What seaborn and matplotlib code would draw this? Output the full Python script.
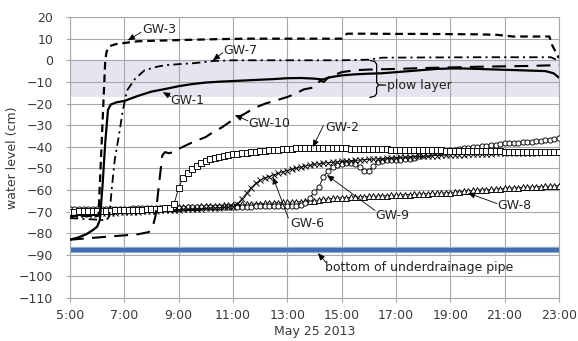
import numpy as np
import pandas as pd
import matplotlib
matplotlib.use("Agg")
import matplotlib.pyplot as plt
import seaborn as sns

# ---------------- data ----------------
# 10-minute series, 5:00 .. 23:00 (hours)
t10 = np.arange(0, 109) / 6.0 + 5.0

gw2 = [-70.0, -70.0, -69.9, -69.9, -69.8, -69.8,
       -69.7, -69.7, -69.6, -69.6, -69.5, -69.5,
       -69.4, -69.3, -69.3, -69.2, -69.1, -69.0,
       -68.9, -68.8, -68.7, -68.5, -68.2, -66.5,
       -59.0, -54.5, -52.0, -50.3, -48.8, -47.5,
       -46.5, -45.8, -45.2, -44.7, -44.2, -43.8,
       -43.5, -43.2, -42.9, -42.7, -42.5, -42.3,
       -42.1, -41.9, -41.7, -41.5, -41.3, -41.1,
       -41.0, -40.9, -40.8, -40.8, -40.7, -40.7,
       -40.7, -40.6, -40.6, -40.6, -40.7, -40.7,
       -40.8, -40.8, -40.9, -40.9, -41.0, -41.0,
       -41.0, -41.1, -41.1, -41.2, -41.2, -41.3,
       -41.3, -41.3, -41.4, -41.4, -41.5, -41.5,
       -41.5, -41.6, -41.6, -41.7, -41.7, -41.8,
       -41.8, -41.9, -41.9, -42.0, -42.0, -42.0,
       -42.1, -42.1, -42.1, -42.2, -42.2, -42.2,
       -42.3, -42.3, -42.3, -42.4, -42.4, -42.4,
       -42.5, -42.5, -42.5, -42.5, -42.6, -42.6,
       -42.6]

gw6 = [-71.5, -71.4, -71.3, -71.2, -71.1, -71.0,
       -70.9, -70.8, -70.7, -70.6, -70.5, -70.4,
       -70.3, -70.2, -70.1, -70.0, -69.9, -69.8,
       -69.7, -69.6, -69.5, -69.4, -69.3, -69.2,
       -69.1, -69.0, -68.9, -68.8, -68.7, -68.6,
       -68.5, -68.4, -68.3, -68.2, -68.1, -68.0,
       -67.8, -66.5, -64.0, -61.5, -59.0, -57.0,
       -55.5, -54.5, -53.8, -53.0, -52.3, -51.6,
       -51.0, -50.4, -49.9, -49.4, -49.0, -48.6,
       -48.2, -47.9, -47.6, -47.4, -47.2, -47.0,
       -46.8, -46.6, -46.5, -46.3, -46.2, -46.0,
       -45.9, -45.7, -45.6, -45.5, -45.3, -45.2,
       -45.0, -44.9, -44.8, -44.7, -44.6, -44.5,
       -44.4, -44.3, -44.2, -44.1, -44.0, -43.9,
       -43.8, -43.7, -43.6, -43.6, -43.5, -43.4,
       -43.3, -43.3, -43.2, -43.2, -43.1, -43.1,
       -43.0, -43.0, -42.9, -42.9, -42.8, -42.8,
       -42.7, -42.7, -42.6, -42.6, -42.5, -42.5,
       -42.4]

gw9 = [-69.0, -69.0, -68.9, -68.9, -68.9, -68.8,
       -68.8, -68.8, -68.7, -68.7, -68.7, -68.6,
       -68.6, -68.6, -68.5, -68.5, -68.5, -68.4,
       -68.4, -68.4, -68.3, -68.3, -68.3, -68.2,
       -68.2, -68.2, -68.1, -68.1, -68.1, -68.0,
       -68.0, -68.0, -67.9, -67.9, -67.9, -67.8,
       -67.8, -67.8, -67.7, -67.7, -67.7, -67.6,
       -67.6, -67.6, -67.5, -67.5, -67.5, -67.4,
       -67.4, -67.3, -67.2, -67.0, -66.0, -63.5,
       -61.0, -58.5, -54.0, -51.0, -49.5, -48.5,
       -48.0, -47.5, -47.5, -48.0, -49.5, -51.0,
       -51.0, -49.0, -47.0, -46.5, -46.3, -46.2,
       -46.0, -46.0, -45.8, -45.5, -45.0, -44.5,
       -44.0, -43.2, -42.6, -42.3, -42.0, -41.8,
       -41.5, -41.3, -41.0, -40.8, -40.6, -40.3,
       -40.0, -39.7, -39.5, -39.2, -39.0, -38.8,
       -38.5, -38.4, -38.3, -38.2, -38.0, -37.9,
       -37.7, -37.5, -37.3, -37.0, -36.7, -36.4,
       -36.0]

gw8 = [-70.5, -70.4, -70.3, -70.2, -70.1, -70.0,
       -69.9, -69.8, -69.7, -69.6, -69.5, -69.4,
       -69.3, -69.2, -69.1, -69.0, -68.9, -68.8,
       -68.7, -68.6, -68.5, -68.4, -68.3, -68.2,
       -68.1, -68.0, -67.9, -67.8, -67.7, -67.6,
       -67.5, -67.4, -67.3, -67.2, -67.1, -67.0,
       -66.9, -66.8, -66.7, -66.6, -66.5, -66.4,
       -66.3, -66.2, -66.1, -66.0, -65.9, -65.8,
       -65.7, -65.6, -65.5, -65.4, -65.3, -65.1,
       -64.9, -64.6, -64.3, -64.1, -63.9, -63.7,
       -63.6, -63.5, -63.4, -63.3, -63.2, -63.1,
       -63.0, -62.9, -62.8, -62.7, -62.6, -62.5,
       -62.4, -62.3, -62.2, -62.1, -62.0, -61.9,
       -61.8, -61.7, -61.6, -61.5, -61.4, -61.3,
       -61.2, -61.0, -60.8, -60.6, -60.4, -60.2,
       -60.0, -59.9, -59.8, -59.7, -59.6, -59.4,
       -59.2, -59.1, -59.0, -58.9, -58.8, -58.7,
       -58.6, -58.5, -58.4, -58.3, -58.2, -58.1,
       -58.0]

# line-only series (irregular times, hours)
gw1_t = [5.0, 5.3, 5.6, 5.85, 6.0, 6.1, 6.2, 6.3, 6.4, 6.5, 6.7, 7.0, 7.5, 8.0,
         8.5, 9.0, 9.5, 10.0, 10.5, 11.0, 11.5, 12.0, 12.5, 13.0, 13.5, 14.0,
         14.3, 14.6, 15.0, 15.5, 16.0, 16.5, 17.0, 17.5, 18.0, 18.5, 19.0, 19.5,
         20.0, 20.5, 21.0, 21.5, 22.0, 22.5, 22.8, 23.0]
gw1_v = [-83.0, -82.0, -80.5, -78.5, -77.0, -74.0, -58.0, -38.0, -23.0, -20.5,
         -19.5, -18.8, -16.5, -14.5, -13.3, -12.0, -11.0, -10.3, -9.9, -9.6,
         -9.3, -9.0, -8.7, -8.3, -8.2, -8.5, -8.9, -7.8, -7.0, -6.5, -6.2, -6.0,
         -5.5, -5.0, -4.5, -4.0, -3.8, -3.8, -4.0, -4.2, -4.4, -4.6, -4.8, -5.0,
         -6.0, -8.0]

gw3_t = [5.0, 6.05, 6.3, 6.35, 6.45, 6.7, 7.0, 7.5, 8.0, 8.6, 9.5, 10.5, 11.5,
         12.8, 14.0, 15.0, 15.2, 16.0, 17.0, 18.0, 19.0, 20.0, 20.7, 21.3, 22.0,
         22.65, 22.75, 23.0]
gw3_v = [-72.0, -72.0, 0.0, 4.0, 6.5, 7.5, 8.0, 8.8, 9.0, 9.2, 9.5, 9.8, 10.0,
         10.0, 10.0, 10.0, 12.3, 12.3, 12.2, 12.2, 12.1, 12.0, 11.8, 11.0, 11.0,
         11.0, 7.0, 1.0]

gw7_t = [5.0, 6.35, 6.45, 6.55, 6.65, 6.8, 6.95, 7.1, 7.4, 7.75, 8.2, 8.5, 9.0,
         9.6, 10.3, 11.0, 12.0, 13.0, 14.0, 15.0, 16.0, 16.5, 18.0, 20.0, 22.0,
         22.7, 23.0]
gw7_v = [-73.0, -74.0, -72.0, -58.0, -46.0, -35.0, -23.0, -14.0, -8.5, -4.6,
         -3.0, -2.3, -1.8, -1.3, -0.3, 0.0, 0.0, 0.0, 0.0, 0.0, 0.3, 1.2, 1.3,
         1.4, 1.4, 1.4, -0.2]

gw10_t = [5.0, 5.5, 6.0, 6.5, 7.0, 7.5, 7.9, 8.05, 8.15, 8.3, 8.4, 8.5, 8.65,
          8.8, 9.0, 9.5, 10.0, 10.3, 10.6, 11.0, 11.4, 11.8, 12.2, 12.6, 13.0,
          13.3, 13.6, 14.0, 14.2, 14.35, 14.5, 15.0, 15.5, 16.0, 17.0, 18.0,
          19.0, 20.0, 21.0, 22.0, 22.5, 23.0]
gw10_v = [-83.0, -82.5, -82.0, -81.5, -81.0, -80.5, -79.5, -77.0, -72.0, -55.0,
          -44.0, -42.5, -43.0, -42.5, -41.0, -38.0, -35.5, -33.0, -31.0, -27.5,
          -25.0, -22.0, -20.0, -18.5, -17.0, -15.5, -13.5, -12.5, -9.5, -10.0,
          -8.0, -5.5, -4.6, -4.3, -4.0, -3.6, -3.3, -3.0, -2.8, -2.6, -2.4, -2.3]

plow_top, plow_bottom = 0.0, -17.0
pipe_level = -88.0

x_ticks = [5, 7, 9, 11, 13, 15, 17, 19, 21, 23]
x_tick_labels = ["5:00", "7:00", "9:00", "11:00", "13:00", "15:00", "17:00",
                 "19:00", "21:00", "23:00"]
y_ticks = list(range(-110, 21, 10))

# ---------------- plot ----------------
sns.set_theme(style="white")
plt.rcParams["font.family"] = ["DejaVu Sans"]
plt.rcParams["lines.scale_dashes"] = False

fig = plt.figure(figsize=(5.78, 3.41), dpi=100)
ax = fig.add_axes([0.121, 0.126, 0.846, 0.824])

ax.axhspan(plow_bottom, plow_top, color="#e6e4ef", zorder=0, lw=0)

# underdrainage pipe
ax.plot([x_ticks[0], x_ticks[-1]], [pipe_level, pipe_level], color="#9db3cf",
        lw=4.6, solid_capstyle="butt", zorder=2)
ax.plot([x_ticks[0], x_ticks[-1]], [pipe_level, pipe_level], color="#3f6fae",
        lw=3.0, solid_capstyle="butt", zorder=2)

mk = dict(color="black", linewidth=0.6, markersize=3.7, markeredgecolor="black",
          markeredgewidth=0.65, markerfacecolor="white")
df_m = pd.DataFrame({"t": t10, "gw2": gw2, "gw6": gw6, "gw9": gw9, "gw8": gw8})
sns.lineplot(data=df_m, x="t", y="gw8", ax=ax, marker="^", zorder=3, **mk)
sns.lineplot(data=df_m, x="t", y="gw9", ax=ax, marker="o", zorder=3, **mk)
sns.lineplot(data=df_m, x="t", y="gw6", ax=ax, marker="x", zorder=3, **mk)
sns.lineplot(data=df_m, x="t", y="gw2", ax=ax, marker="s", zorder=3, **mk)

sns.lineplot(x=gw10_t, y=gw10_v, ax=ax, color="black", linewidth=1.5, zorder=4)
ax.lines[-1].set_dashes([10, 6])
sns.lineplot(x=gw7_t, y=gw7_v, ax=ax, color="black", linewidth=1.3, zorder=4)
ax.lines[-1].set_dashes([6, 3, 1.5, 3])
sns.lineplot(x=gw3_t, y=gw3_v, ax=ax, color="black", linewidth=1.6, zorder=4)
ax.lines[-1].set_dashes([5.5, 3.5])
sns.lineplot(x=gw1_t, y=gw1_v, ax=ax, color="black", linewidth=1.6, zorder=5)

# axes
ax.set_xlim(5, 23)
ax.set_ylim(-110, 20)
ax.set_xticks(x_ticks)
ax.set_xticklabels(x_tick_labels)
ax.set_yticks(y_ticks)
ax.grid(True, color="#a8a8a8", lw=0.8)
ax.set_axisbelow(True)
for s in ax.spines.values():
    s.set_color("#a8a8a8")
    s.set_linewidth(0.8)
ax.tick_params(axis="both", which="both", labelsize=9, colors="#a8a8a8",
               labelcolor="#3a3a3a", length=3, width=0.8, direction="out",
               left=True, bottom=True)
ax.tick_params(axis="x", pad=5)
ax.tick_params(axis="y", pad=9)
ax.set_xlabel("May 25 2013", fontsize=9, color="#3a3a3a", labelpad=2)
ax.set_ylabel("water level (cm)", fontsize=9, color="#3a3a3a", labelpad=0)

# annotations
arr = dict(arrowstyle="-|>,head_length=0.35,head_width=0.15", color="black",
           lw=0.6, shrinkA=0, shrinkB=0)
tk = dict(fontsize=9, color="#222222", va="center", ha="left", zorder=6)

def note(label, text_xy, start_xy, end_xy):
    ax.annotate("", xy=end_xy, xytext=start_xy, arrowprops=arr, zorder=6)
    ax.text(text_xy[0], text_xy[1], label, **tk)

note("GW-3", (7.65, 14.3), (7.62, 13.0), (7.13, 9.2))
note("GW-7", (10.63, 4.6), (10.63, 3.5), (10.26, 0.0))
note("GW-1", (8.68, -18.5), (8.72, -16.8), (8.42, -14.8))
note("GW-10", (11.55, -29.1), (11.55, -28.0), (11.07, -25.4))
note("GW-2", (14.39, -31.0), (14.33, -30.2), (13.94, -40.2))
note("GW-6", (13.12, -75.3), (13.04, -73.0), (12.47, -54.0))
note("GW-9", (16.23, -71.6), (16.23, -69.5), (14.46, -53.1))
note("GW-8", (20.74, -67.4), (20.72, -66.3), (19.65, -61.4))
note("bottom of underdrainage pipe", (14.39, -96.0), (14.42, -93.5),
     (14.13, -89.2))

# plow layer brace
bx = [16.04, 16.22, 16.29, 16.29, 16.36, 16.62]
by = [0.0, -0.6, -1.8, -10.3, -11.4, -11.5]
ax.plot(bx, by, color="black", lw=0.9, zorder=6)
ax.plot([16.04, 16.22, 16.29, 16.29, 16.36],
        [-17.2, -16.6, -15.4, -12.6, -11.5], color="black", lw=0.9, zorder=6)
ax.text(16.66, -11.5, "plow layer", **tk)

fig.savefig("out.png", dpi=100)
